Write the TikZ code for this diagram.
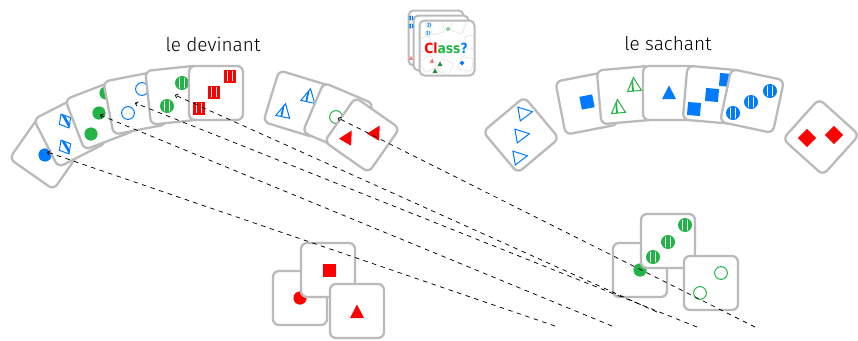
\documentclass[tikz,border=0pt]{standalone}
\usepackage{fontspec}
\setmainfont{Fira Sans Light}
\newfontfamily\iconfont{DejaVu Sans}[FakeStretch=0.88]
\usetikzlibrary{arrows.meta}

\definecolor{cardgray}{RGB}{186,186,186}
\definecolor{cred}{RGB}{255,0,0}
\definecolor{cgreen}{RGB}{34,180,70}
\definecolor{cblue}{RGB}{0,122,255}
\definecolor{faint}{RGB}{222,222,222}

\tikzset{
  card/.style={draw=cardgray, line width=2.3pt, fill=white, rounded corners=6pt,
    minimum size=54pt, inner sep=0pt, outer sep=0pt},
  iconcard/.style={draw=cardgray, line width=2pt, fill=white, rounded corners=5pt,
    minimum size=55pt, inner sep=0pt, outer sep=0pt},
  minicard/.style={draw=faint, line width=0.5pt, rounded corners=1.5pt,
    minimum size=13pt, inner sep=0pt},
  title/.style={font=\fontsize{19}{22}\selectfont, text=black},
  guess/.style={draw=black, line width=0.75pt, dash pattern=on 4.5pt off 4.5pt,
    -{To[length=3pt,width=5pt]}},
  % symbols, drawn in local coordinates (y grows downwards)
  pics/fdot/.style={code={\fill[#1] (0,0) circle[radius=6.6];}},
  pics/odot/.style={code={\draw[#1, line width=1pt] (0,0) circle[radius=6.4];}},
  pics/sdot/.style={code={
    \fill[#1] (0,0) circle[radius=7];
    \begin{scope}
      \clip (0,0) circle[radius=5.8];
      \draw[white, line width=1.3pt] (-2.3,-8) -- (-2.3,8) (2.3,-8) -- (2.3,8);
    \end{scope}}},
  pics/fsq/.style={code={\fill[#1] (-6.5,-6.5) rectangle (6.5,6.5);}},
  pics/ssq/.style={code={
    \fill[#1] (-6,-6.5) rectangle (6,6.5);
    \draw[white, line width=1.3pt] (-2.2,-5) -- (-2.2,5) (2.2,-5) -- (2.2,5);}},
  pics/ftri/.style={code={\fill[#1] (0,-7.5) -- (7,6) -- (-7,6) -- cycle;}},
  pics/otri/.style={code={\draw[#1, line width=1pt, line join=miter]
    (0,-7.5) -- (7,6) -- (-7,6) -- cycle;}},
  pics/stri/.style={code={
    \draw[#1, line width=1pt, line join=miter] (0,-7.5) -- (7,6) -- (-7,6) -- cycle;
    \fill[#1] (-2.4,-2.5) -- (-0.6,-6) -- (-0.6,6) -- (-2.4,6) -- cycle;}},
  pics/sdia/.style={code={
    \draw[#1, line width=1pt, line join=miter] (0,-8) -- (6.5,0) -- (0,8) -- (-6.5,0) -- cycle;
    \fill[#1] (0,-8) -- (2.6,-4.8) -- (2.6,4.8) -- (0,8) -- cycle;}},
  pics/tinydot/.style={code={
    \draw[#1, line width=0.5pt] (0,0) circle[radius=2.2];
    \draw[#1, line width=0.4pt] (-0.8,-2) -- (-0.8,2) (0.8,-2) -- (0.8,2);}},
}

\begin{document}
\begin{tikzpicture}[x=1pt, y=-1pt]
\useasboundingbox (0,0) rectangle (858,340);

% ---------- titles ----------
\node[title] (tdev) at (213,44) {le devinant};
\node[title] (tsach) at (668,44) {le sachant};

% ---------- the "Class?" box ----------
\node[iconcard] (cls3) at (436,38) {};
\node[iconcard] (cls2) at (441,43) {};
\pic at (411,18) {tinydot=cblue};
\pic at (411,26) {tinydot=cblue};
\pic at (411,58) {ftri={cred!50, scale=0.3}};
\node[iconcard] (cls1) at (447,48) {};
\begin{scope}
  \clip[rounded corners=5pt] (420,21) rectangle (474.5,75);
  \node[minicard, rotate=15] (m1) at (437,27) {};
  \node[minicard, rotate=-20] (m2) at (458,26) {};
  \node[minicard, rotate=10] (m3) at (472,42) {};
  \node[minicard, rotate=30] (m4) at (428,64) {};
  \node[minicard, rotate=-25] (m5) at (445,67) {};
  \node[minicard, rotate=-10] (m6) at (466,64) {};
  \node[minicard, rotate=20] (m7) at (425,44) {};
\end{scope}
\pic at (429,25) {tinydot=cblue!70};
\pic at (428,33) {tinydot=cblue!70};
\pic[rotate=20] at (448,29) {fsq={cgreen!60, scale=0.25}};
\pic[rotate=-10] at (432,61) {ftri={cred!60, scale=0.3}};
\pic at (440,64) {ftri={cgreen!80!black, scale=0.35}};
\pic at (435,71) {ftri={cgreen!80!black, scale=0.35}};
\pic[rotate=45] at (462,63) {fsq={cblue, scale=0.25}};
\node[font=\iconfont\bfseries\fontsize{14}{16}\selectfont, inner sep=0pt] (cls) at (446,48)
  {\textcolor{cred}{Cl}\textcolor{cgreen}{ass}\textcolor{cblue}{?}};

% ---------- guesser's fan ----------
\node[card, rotate=55] (c1) at (47,152) {};
\pic at (45,155) {fdot=cblue};
\node[card, rotate=27] (c2) at (70,131) {};
\pic[rotate=30] at (65,121) {sdia=cblue};
\pic[rotate=30] at (65,147) {sdia=cblue};
\node[card, rotate=21] (c3) at (100,115) {};
\pic at (106,93) {fdot=cgreen};
\pic at (99,113) {fdot=cgreen};
\pic at (91,134) {fdot=cgreen};
\node[card, rotate=11] (c4) at (135,103) {};
\pic at (142,89) {odot=cblue};
\pic at (128,113) {odot=cblue};
\node[card, rotate=6] (c5) at (175,95) {};
\pic at (182,83) {sdot=cgreen};
\pic at (167,106) {sdot=cgreen};
\node[card] (c6) at (216,93) {};
\pic at (230,76) {ssq=cred};
\pic at (214,92) {ssq=cred};
\pic at (199,108) {ssq=cred};

% ---------- guesser's other cards ----------
\node[card, rotate=-17] (ga) at (297,104) {};
\pic[rotate=-12] at (284,111) {stri=cblue};
\pic[rotate=-12] at (309,96) {stri=cblue};
\node[card, rotate=-23] (gb) at (338,118) {};
\pic at (336,117) {odot=cgreen};
\node[card, rotate=-35] (gc) at (362,135) {};
\pic[rotate=-30] at (348,137) {ftri=cred};
\pic[rotate=-30] at (376,132) {ftri=cred};

% ---------- knower's cards ----------
\node[card, rotate=40] (kl) at (521,135) {};
\pic[rotate=-80] at (525,113) {otri=cblue};
\pic[rotate=-80] at (522,135) {otri=cblue};
\pic[rotate=-80] at (520,157) {otri=cblue};
\node[card, rotate=11] (k1) at (587,103) {};
\pic[rotate=11] at (587,102) {fsq=cblue};
\node[card, rotate=5] (k2) at (626,95) {};
\pic[rotate=5] at (618,107) {stri=cgreen};
\pic[rotate=5] at (634,85) {stri=cgreen};
\node[card] (k3) at (670,93) {};
\pic at (669,93) {ftri=cblue};
\node[card, rotate=-5] (k4) at (712,95) {};
\pic[rotate=-5] at (726,80) {fsq=cblue};
\pic[rotate=-5] at (712,95) {fsq=cblue};
\pic[rotate=-5] at (694,109) {fsq=cblue};
\node[card, rotate=-12] (k5) at (752,101) {};
\pic at (770,91) {sdot=cblue};
\pic at (751,102) {sdot=cblue};
\pic at (733,113) {sdot=cblue};
\node[card, rotate=-42] (kr) at (821,137) {};
\pic[rotate=-45] at (807,138) {fsq=cred};
\pic[rotate=-45] at (834,135) {fsq=cred};

% ---------- red group ----------
\node[card] (bl1) at (300,298) {};
\pic at (300,298) {fdot=cred};
\node[card] (bl2) at (328,270) {};
\pic at (329,270) {fsq=cred};
\node[card] (bl3) at (357,311) {};
\pic at (357,312) {ftri=cred};

% ---------- green group ----------
\node[card] (br1) at (640,270) {};
\pic at (640,270) {fdot=cgreen};
\node[card] (br2) at (668,241) {};
\pic at (685,225) {sdot=cgreen};
\pic at (668,242) {sdot=cgreen};
\pic at (653,257) {sdot=cgreen};
\node[card] (br3) at (711,283) {};
\pic at (721,273) {odot=cgreen};
\pic at (700,293) {odot=cgreen};

% ---------- dashed guesses ----------
\coordinate (e1) at (555,326);
\coordinate (e2) at (612,326);
\coordinate (e3) at (697,327);
\coordinate (e4) at (657,312);
\coordinate (e6) at (755,327);
\draw[guess] (e1) -- (c1.center);
\draw[guess] (e2) -- (c3.center);
\draw[guess] (e3) -- (c4.center);
\draw[guess] (e4) -- (c5.center);
\draw[guess] (e6) -- (gb.center);
\end{tikzpicture}
\end{document}
